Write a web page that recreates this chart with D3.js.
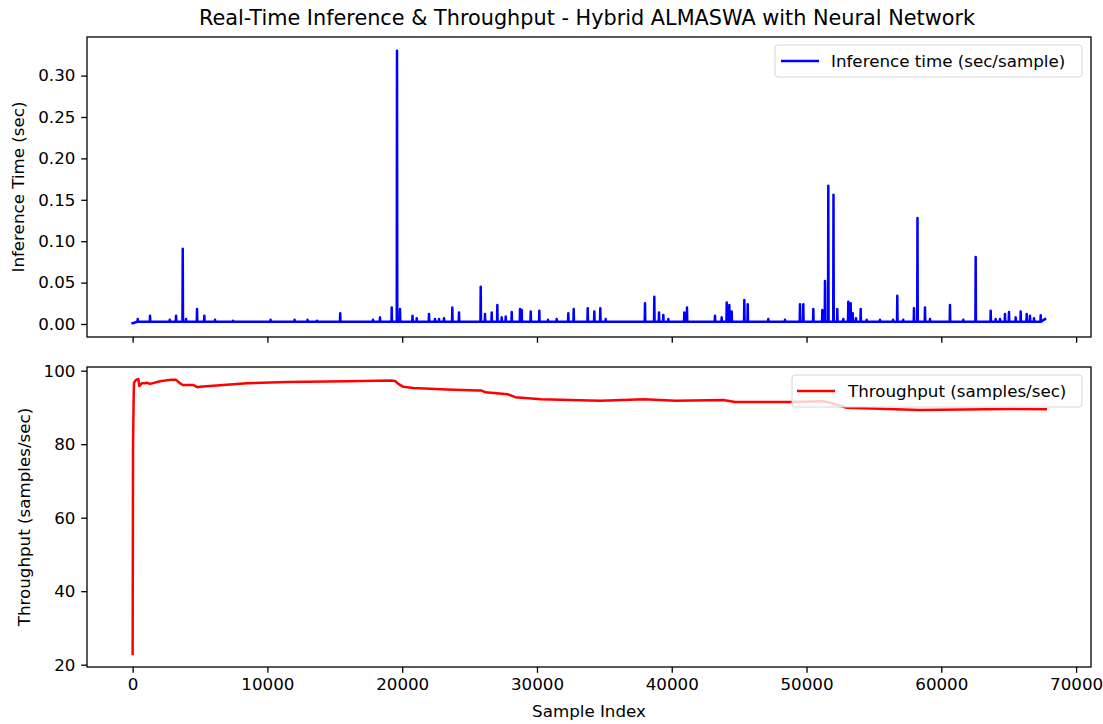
<!DOCTYPE html>
<html><head><meta charset="utf-8">
<script src="https://cdn.jsdelivr.net/npm/d3@7"></script>
<style>
html,body{margin:0;padding:0;background:#fff;}
svg{display:block;font-family:"DejaVu Sans",sans-serif;}
</style></head>
<body><svg id="chart" width="1103" height="724"></svg>
<script>
// ---- Data ----
const titleText = "Real-Time Inference & Throughput - Hybrid ALMASWA with Neural Network";
const xTicks = [0, 10000, 20000, 30000, 40000, 50000, 60000, 70000];
const inferTicks = [0.00, 0.05, 0.10, 0.15, 0.20, 0.25, 0.30];
const thrTicks = [20, 40, 60, 80, 100];

const inferBase = 0.0028;
// spike sample indices and their peak inference times (sec)
const spikeIdx = [378, 1291, 2752, 3220, 3717, 3962, 4778, 5320, 6113, 7449, 10231, 12012, 12976, 13681,
  15402, 17835, 18355, 19223, 19616, 19838, 20766, 21077, 21990, 22435, 22732, 23103, 23719, 24216,
  25826, 26145, 26642, 27058, 27384, 27681, 28126, 28742, 28868, 29536, 30174, 30819, 31465, 32325,
  32726, 33764, 34254, 34699, 35100, 38015, 38705, 39054, 39373, 39744, 40931, 41131, 43208, 43706,
  44077, 44270, 44448, 45383, 45635, 47164, 48402, 49515, 49760, 50502, 51170, 51370, 51615, 52000,
  52282, 52727, 53098, 53276, 53425, 53670, 54018, 54463, 55450, 56414, 56733, 57178, 57972, 58232,
  58789, 59160, 60643, 61630, 62550, 63663, 64034, 64353, 64724, 65021, 65518, 65889, 66334, 66579,
  66876, 67373];
const spikeVal = [0.006, 0.010, 0.005, 0.010, 0.091, 0.006, 0.018, 0.010, 0.005, 0.004, 0.005, 0.005, 0.005, 0.004,
  0.013, 0.005, 0.008, 0.020, 0.330, 0.018, 0.010, 0.007, 0.012, 0.006, 0.006, 0.007, 0.020, 0.014,
  0.045, 0.012, 0.014, 0.023, 0.008, 0.009, 0.0145, 0.018, 0.017, 0.015, 0.016, 0.005, 0.006, 0.013,
  0.018, 0.019, 0.015, 0.019, 0.006, 0.025, 0.033, 0.014, 0.011, 0.006, 0.014, 0.020, 0.010, 0.008,
  0.026, 0.023, 0.015, 0.029, 0.024, 0.006, 0.005, 0.024, 0.024, 0.018, 0.017, 0.052, 0.167, 0.156,
  0.018, 0.006, 0.027, 0.025, 0.013, 0.007, 0.018, 0.005, 0.005, 0.005, 0.034, 0.005, 0.019, 0.128,
  0.020, 0.006, 0.023, 0.005, 0.081, 0.016, 0.006, 0.006, 0.012, 0.0145, 0.008, 0.015, 0.012, 0.010,
  0.007, 0.0105];
const inferStart = [0, 0.0010];
const inferEnd = [67700, 0.0060];

const thrIdx = [0, 30, 80, 104, 252, 423, 497, 675, 920, 1046, 1291, 2033, 2775, 3220, 3465, 3717, 4503,
  4800, 5000, 8465, 11433, 15884, 19223, 19468, 19712, 20083, 20825, 23303, 25648, 25900, 26180, 27807,
  28393, 30300, 34706, 37940, 40293, 43817, 44692, 48810, 51222, 51740, 52980, 58418, 64947, 67750];
const thrVal = [22.9, 80.0, 93.8, 96.7, 97.5, 97.7, 95.8, 96.6, 96.6, 96.7, 96.4, 97.1, 97.5, 97.5, 96.7, 96.1, 96.1,
  95.5, 95.6, 96.6, 96.9, 97.1, 97.3, 97.2, 96.4, 95.6, 95.3, 94.9, 94.6, 94.6, 94.1, 93.6,
  92.8, 92.2, 91.8, 92.2, 91.8, 92.0, 91.5, 91.5, 91.7, 91.3, 89.9, 89.3, 89.6, 89.5];

// ---- Build line series ----
const inferData = [inferStart];
spikeIdx.forEach((ix, i) => {
  inferData.push([ix - 20, inferBase]);
  inferData.push([ix, spikeVal[i]]);
  inferData.push([ix + 20, inferBase]);
});
inferData.push(inferEnd);
const thrData = thrIdx.map((ix, i) => [ix, thrVal[i]]);

// ---- Layout ----
const svg = d3.select("#chart");
const L = 87, R = 1091;
const top1 = 37, bot1 = 337, top2 = 367, bot2 = 667;
const fs = 16.7;
const tk = 5.8;
const lw = 2.5;
const x = d3.scaleLinear().domain([-3386, 71106]).range([L, R]);
const y1 = d3.scaleLinear().domain([-0.0157, 0.3466]).range([bot1, top1]);
const y2 = d3.scaleLinear().domain([19.37, 101.0]).range([bot2, top2]);

function styleAxis(g) {
  g.selectAll(".domain").remove();
  g.selectAll(".tick line").attr("stroke", "#000").attr("stroke-width", 1.3);
  g.selectAll(".tick text").attr("fill", "#000").style("font-size", fs + "px").style("font-family", "DejaVu Sans");
}

svg.append("clipPath").attr("id", "c1").append("rect")
  .attr("x", L).attr("y", top1).attr("width", R - L).attr("height", bot1 - top1);
svg.append("clipPath").attr("id", "c2").append("rect")
  .attr("x", L).attr("y", top2).attr("width", R - L).attr("height", bot2 - top2);

svg.append("path").datum(inferData)
  .attr("clip-path", "url(#c1)")
  .attr("fill", "none").attr("stroke", "#0000ff").attr("stroke-width", lw)
  .attr("stroke-linejoin", "round").attr("stroke-linecap", "square")
  .attr("d", d3.line().x(d => x(d[0])).y(d => y1(d[1])));

svg.append("path").datum(thrData)
  .attr("clip-path", "url(#c2)")
  .attr("fill", "none").attr("stroke", "#ff0000").attr("stroke-width", lw)
  .attr("stroke-linejoin", "round").attr("stroke-linecap", "square")
  .attr("d", d3.line().x(d => x(d[0])).y(d => y2(d[1])));

// axes
svg.append("g").attr("transform", `translate(0,${bot1})`)
  .call(d3.axisBottom(x).tickValues(xTicks).tickSize(tk).tickFormat(""))
  .call(styleAxis);
svg.append("g").attr("transform", `translate(${L},0)`)
  .call(d3.axisLeft(y1).tickValues(inferTicks).tickSize(tk).tickPadding(tk).tickFormat(d3.format(".2f")))
  .call(styleAxis);
svg.append("g").attr("transform", `translate(0,${bot2})`)
  .call(d3.axisBottom(x).tickValues(xTicks).tickSize(tk).tickPadding(tk).tickFormat(d3.format("d")))
  .call(styleAxis);
svg.append("g").attr("transform", `translate(${L},0)`)
  .call(d3.axisLeft(y2).tickValues(thrTicks).tickSize(tk).tickPadding(tk).tickFormat(d3.format("d")))
  .call(styleAxis);

// frames
[[top1, bot1], [top2, bot2]].forEach(([t, b]) => {
  svg.append("rect").attr("x", L).attr("y", t).attr("width", R - L).attr("height", b - t)
    .attr("fill", "none").attr("stroke", "#000").attr("stroke-width", 1.3);
});

// title and labels
svg.append("text").attr("x", (L + R) / 2 - 2).attr("y", 25).attr("text-anchor", "middle")
  .style("font-size", "20.8px").attr("fill", "#000").text(titleText);
svg.append("text").attr("x", (L + R) / 2).attr("y", 717).attr("text-anchor", "middle")
  .style("font-size", fs + "px").attr("fill", "#000").text("Sample Index");
svg.append("text").attr("transform", `translate(24,${(top1 + bot1) / 2}) rotate(-90)`).attr("text-anchor", "middle")
  .style("font-size", fs + "px").attr("fill", "#000").text("Inference Time (sec)");
svg.append("text").attr("transform", `translate(30,${(top2 + bot2) / 2}) rotate(-90)`).attr("text-anchor", "middle")
  .style("font-size", fs + "px").attr("fill", "#000").text("Throughput (samples/sec)");

// legends
function legend(x0, y0, w, h, color, label, lx0, lx1, tx) {
  const g = svg.append("g");
  g.append("rect").attr("x", x0).attr("y", y0).attr("width", w).attr("height", h)
    .attr("rx", 3).attr("fill", "#fff").attr("fill-opacity", 0.8)
    .attr("stroke", "#d6d6d6").attr("stroke-width", 1);
  g.append("line").attr("x1", lx0).attr("x2", lx1).attr("y1", y0 + h / 2).attr("y2", y0 + h / 2)
    .attr("stroke", color).attr("stroke-width", lw);
  g.append("text").attr("x", tx).attr("y", y0 + h / 2 + 6).style("font-size", fs + "px")
    .attr("fill", "#000").text(label);
}
legend(775, 45, 307, 32, "#0000ff", "Inference time (sec/sample)", 781, 819, 831);
legend(792, 375, 290, 32, "#ff0000", "Throughput (samples/sec)", 797, 835, 848);
</script></body></html>
